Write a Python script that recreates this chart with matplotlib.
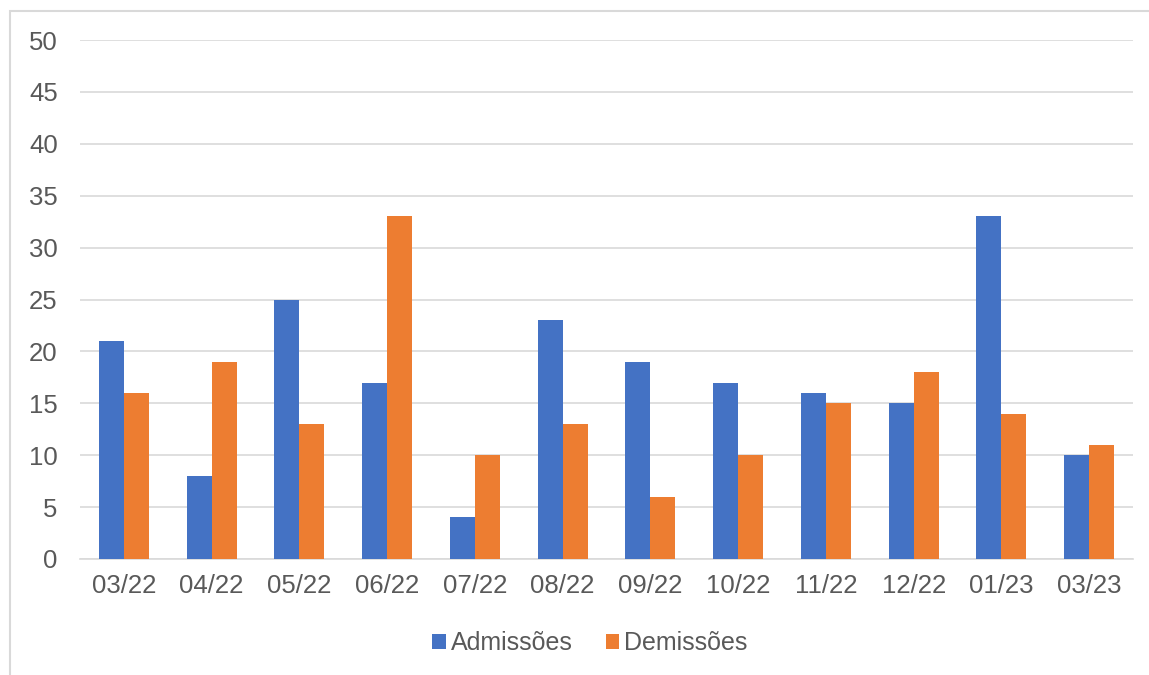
import matplotlib
matplotlib.use("Agg")
import matplotlib.pyplot as plt
import numpy as np
from matplotlib.patches import Rectangle

categories = ["03/22", "04/22", "05/22", "06/22", "07/22", "08/22",
              "09/22", "10/22", "11/22", "12/22", "01/23", "03/23"]
admissoes = [21, 8, 25, 17, 4, 23, 19, 17, 16, 15, 33, 10]
demissoes = [16, 19, 13, 33, 10, 13, 6, 10, 15, 18, 14, 11]
yticks = [0, 5, 10, 15, 20, 25, 30, 35, 40, 45, 50]

plt.rcParams['font.family'] = ['Liberation Sans', 'DejaVu Sans']

fig = plt.figure(figsize=(11.49, 6.75), dpi=100)
ax = fig.add_axes([80/1149, 1-559/675, (1133-80)/1149, (559-40)/675])

x = np.arange(len(categories))
w = 1/3.5
blue = "#4472C4"
orange = "#ED7D31"
ax.bar(x - w/2, admissoes, width=w, color=blue, label="Admissões", zorder=3)
ax.bar(x + w/2, demissoes, width=w, color=orange, label="Demissões", zorder=3)

ax.set_xlim(-0.5, len(categories) - 0.5)
ax.set_ylim(0, 50)
ax.set_yticks(yticks)
ax.set_xticks(x)
ax.set_xticklabels(categories)
ax.grid(axis='y', color='#d9d9d9', linewidth=1.2, zorder=0)
for s in ['top', 'right', 'left']:
    ax.spines[s].set_visible(False)
ax.spines['bottom'].set_color('#d9d9d9')
ax.spines['bottom'].set_linewidth(1.2)
ax.tick_params(axis='both', length=0, labelsize=18.5, labelcolor='#595959')
ax.tick_params(axis='y', pad=16)
ax.tick_params(axis='x', pad=11)

leg = fig.legend(loc='center', bbox_to_anchor=(590/1149, 1-643/675), ncol=2,
                 frameon=False, fontsize=18, handlelength=0.55, handleheight=0.55,
                 handletextpad=0.2, columnspacing=1.3)
for t in leg.get_texts():
    t.set_color('#595959')

fig.patches.append(Rectangle((10/1149, -0.1), 1.2, 1 - 11/675 + 0.1,
                             transform=fig.transFigure, fill=False,
                             edgecolor='#d9d9d9', linewidth=1.5))

fig.savefig("out.png", dpi=100)
